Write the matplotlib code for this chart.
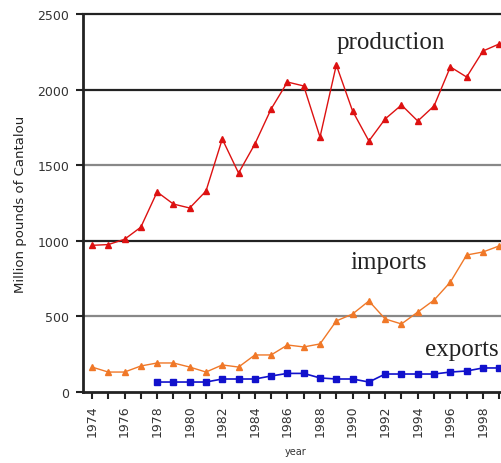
import matplotlib
matplotlib.use('Agg')
import matplotlib.pyplot as plt

# data (million pounds)
years = list(range(1974, 2000))
production = [970, 975, 1010, 1090, 1323, 1243, 1217, 1329, 1673, 1448,
              1640, 1872, 2050, 2024, 1686, 2163, 1858, 1660, 1806, 1898,
              1792, 1892, 2150, 2083, 2255, 2302]
imports = [165, 132, 132, 172, 192, 192, 165, 132, 179, 165,
           245, 245, 311, 298, 318, 470, 516, 602, 483, 450,
           529, 608, 727, 906, 926, 966]
export_years = list(range(1978, 2000))
exports = [66, 66, 66, 66, 86, 86, 86, 106, 123, 123, 93, 86, 86, 66,
           119, 119, 119, 119, 132, 139, 159, 159]
tick_years = list(range(1974, 2000, 2))

fig = plt.figure(figsize=(5.02, 4.64), dpi=100)
ax = fig.add_axes([0.1653, 0.153, 0.8454, 0.8147])

ax.plot(years, production, color='#dd1111', lw=1, marker='^', ms=5,
        mec='#dd1111', mfc='#dd1111', zorder=3)
ax.plot(years, imports, color='#f07828', lw=1, marker='^', ms=5,
        mec='#f07828', mfc='#f07828', zorder=3)
ax.plot(export_years, exports, color='#1111cc', lw=1.2, marker='s', ms=4.5,
        mec='#1111cc', mfc='#1111cc', zorder=3)

ax.set_xlim(1973.45, 1999.5)
ax.set_ylim(0, 2500)

# horizontal grid lines
for v in [500, 1000, 1500, 2000, 2500]:
    c = '#222222' if v in (1000, 2000, 2500) else '#888888'
    ax.axhline(v, color=c, lw=1.6, zorder=1, clip_on=False)

ax.set_yticks([0, 500, 1000, 1500, 2000, 2500])
ax.set_yticklabels(['0', '500', '1000', '1500', '2000', '2500'])
ax.set_xticks(years)
ax.set_xticklabels([str(y) if y in tick_years else '' for y in years],
                   rotation=90)
ax.tick_params(axis='both', direction='out', length=5, width=1.5,
               labelsize=9, colors='#222222', labelcolor='#333333')
ax.tick_params(axis='x', pad=4)
ax.tick_params(axis='y', pad=5)

for s in ['top', 'right']:
    ax.spines[s].set_visible(False)
ax.spines['left'].set_linewidth(2)
ax.spines['bottom'].set_linewidth(2)
ax.spines['left'].set_color('#222222')
ax.spines['bottom'].set_color('#222222')

ax.set_ylabel('Million pounds of Cantalou', fontsize=9.5, color='#222222',
              labelpad=7)
ax.set_xlabel('year', fontsize=7, color='#333333', labelpad=7)

ax.text(1992.35, 2315, 'production', family='Liberation Serif', fontsize=18,
        ha='center', va='center', color='#222222')
ax.text(1992.2, 860, 'imports', family='Liberation Serif', fontsize=18,
        ha='center', va='center', color='#222222')
ax.text(1996.7, 284, 'exports', family='Liberation Serif', fontsize=18,
        ha='center', va='center', color='#222222')

plt.savefig('out.png', dpi=100)
